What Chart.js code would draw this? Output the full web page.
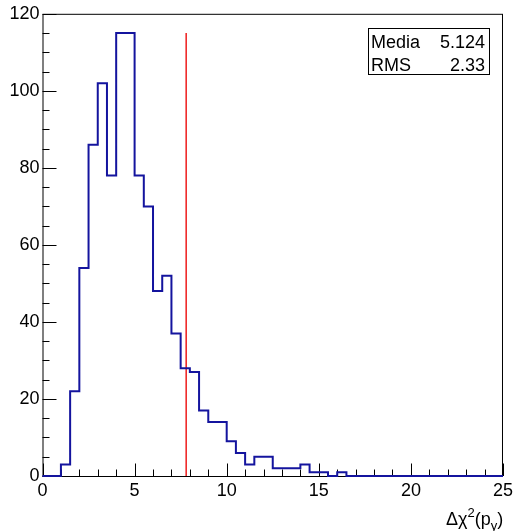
<!DOCTYPE html>
<html>
<head>
<meta charset="utf-8">
<script src="https://cdn.jsdelivr.net/npm/chart.js@4"></script>
<style>
  html, body { margin: 0; padding: 0; background: #fff; }
  #wrap { width: 517px; height: 531px; }
</style>
</head>
<body>
<div id="wrap"><canvas id="grafico"></canvas></div>
<script>
// histograma: 50 bins de 0 a 25
const binLow = 0;
const binHigh = 25;
const binWidth = 0.5;
const counts = [0, 0, 3, 22, 54, 86, 102, 78, 115, 115,
                78, 70, 48, 52, 37, 28, 27, 17, 14, 14,
                9, 6, 3, 5, 5, 2, 2, 2, 3, 1,
                1, 0, 1, 0, 0, 0, 0, 0, 0, 0,
                0, 0, 0, 0, 0, 0, 0, 0, 0, 0];
const cutValue = 7.8;
const cutTop = 115;
const xTicks = [0, 5, 10, 15, 20, 25];
const yTicks = [0, 20, 40, 60, 80, 100, 120];
const statLabels = ['Media', 'RMS'];
const statValues = ['5.124', '2.33'];

const FONT = '"Liberation Sans", Arial, Helvetica, sans-serif';

const histPoints = counts.map((c, i) => ({ x: binLow + i * binWidth, y: c }));
histPoints.push({ x: binHigh, y: counts[counts.length - 1] });

// moldura, ticks para dentro, caixa de estatística e título do eixo
const rootStyle = {
    id: 'rootStyle',
    beforeDatasetsDraw(chart) {
        const { ctx, chartArea: a, scales: { x, y } } = chart;
        ctx.save();
        ctx.strokeStyle = '#000';
        ctx.lineWidth = 1;
        ctx.strokeRect(a.left + 0.5, a.top + 0.5, a.right - a.left - 1, a.bottom - a.top);
        ctx.beginPath();
        for (let v = binLow; v <= binHigh; v += 1) {
            const px = Math.round(x.getPixelForValue(v)) + 0.5;
            const len = (v % 5 === 0) ? 12.5 : 6.5;
            ctx.moveTo(px, a.bottom);
            ctx.lineTo(px, a.bottom - len);
        }
        for (let v = 0; v <= 120; v += 5) {
            const py = Math.round(y.getPixelForValue(v)) + 0.5;
            const len = (v % 20 === 0) ? 14 : 7;
            ctx.moveTo(a.left, py);
            ctx.lineTo(a.left + len, py);
        }
        ctx.stroke();
        ctx.restore();
    },
    afterDatasetsDraw(chart) {
        const { ctx } = chart;
        ctx.save();
        // caixa de estatística
        ctx.fillStyle = '#fff';
        ctx.fillRect(368, 28, 122, 47);
        ctx.strokeStyle = '#000';
        ctx.lineWidth = 1;
        ctx.strokeRect(368.5, 28.5, 121, 46);
        ctx.fillStyle = '#000';
        ctx.font = '18px ' + FONT;
        ctx.textBaseline = 'alphabetic';
        const rows = [48, 71];
        statLabels.forEach((lab, i) => {
            ctx.textAlign = 'left';
            ctx.fillText(lab, 371, rows[i]);
            ctx.textAlign = 'right';
            ctx.fillText(statValues[i], 485, rows[i]);
        });
        // título do eixo x: Δχ²(p_y)
        const base = 525;
        let cx = 446;
        ctx.textAlign = 'left';
        const put = (t, font, dy) => {
            ctx.font = font;
            ctx.fillText(t, cx, base + dy);
            cx += ctx.measureText(t).width;
        };
        put('\u0394\u03c7', '18px ' + FONT, 0);
        put('2', '13px ' + FONT, -8);
        put('(p', '18px ' + FONT, 0);
        put('y', '13px ' + FONT, 5);
        put(')', '18px ' + FONT, 0);
        ctx.restore();
    }
};

new Chart(document.getElementById('grafico'), {
    type: 'line',
    data: {
        datasets: [{
            data: histPoints,
            stepped: 'before',
            borderColor: '#14149e',
            borderWidth: 2,
            pointRadius: 0,
            fill: false,
            clip: false
        }, {
            data: [{ x: cutValue, y: 0 }, { x: cutValue, y: cutTop }],
            borderColor: '#ee1c1c',
            borderWidth: 1.5,
            pointRadius: 0,
            fill: false
        }]
    },
    options: {
        responsive: true,
        maintainAspectRatio: false,
        animation: false,
        layout: { padding: { top: 13, right: 11, left: 0, bottom: 0 } },
        plugins: { legend: { display: false }, tooltip: { enabled: false } },
        scales: {
            x: {
                type: 'linear',
                min: binLow,
                max: binHigh,
                grid: { display: false, drawTicks: false },
                border: { display: false },
                afterFit: s => { s.height = 55; },
                afterBuildTicks: s => { s.ticks = xTicks.map(v => ({ value: v })); },
                ticks: {
                    color: '#000',
                    font: { family: FONT, size: 18 },
                    padding: 4,
                    autoSkip: false,
                    maxRotation: 0
                }
            },
            y: {
                min: 0,
                max: 120,
                grid: { display: false, drawTicks: false },
                border: { display: false },
                afterFit: s => { s.width = 42.5; },
                afterBuildTicks: s => { s.ticks = yTicks.map(v => ({ value: v })); },
                ticks: {
                    color: '#000',
                    font: { family: FONT, size: 18 },
                    padding: 3
                }
            }
        }
    },
    plugins: [rootStyle]
});
</script>
</body>
</html>
